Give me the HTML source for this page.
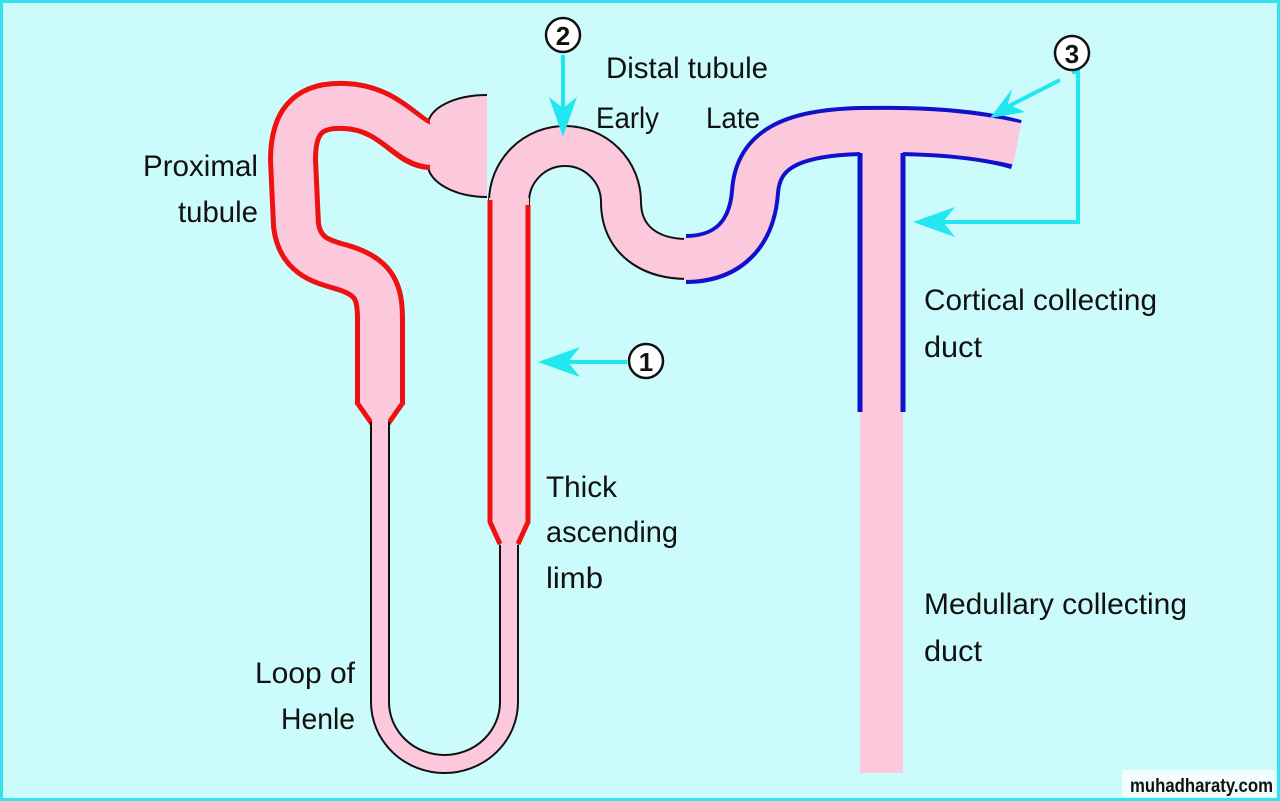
<!DOCTYPE html>
<html><head><meta charset="utf-8"><style>
html,body{margin:0;padding:0;background:#ccfbfb;}
svg{display:block}
text{font-family:"Liberation Sans",sans-serif;fill:#111;}
</style></head><body>
<svg width="1280" height="801" viewBox="0 0 1280 801" xmlns="http://www.w3.org/2000/svg">
<rect x="0" y="0" width="1280" height="801" fill="#ccfbfb"/>
<rect x="1.5" y="1.5" width="1277" height="798" fill="none" stroke="#35e2ef" stroke-width="3"/>

<!-- Glomerulus capsule -->
<path d="M487,95 C455,95 428,108 428,125 L428,165 C428,182 455,197 487,197 Z" fill="#fbc8dc" stroke="none"/>
<path d="M487,95 C455,95 428,108 428,125 L428,165 C428,182 455,197 487,197" fill="none" stroke="#111" stroke-width="2"/>

<!-- Proximal tubule -->
<path d="M430,145 C408,145 392,108 345,106 C305,104 293,125 293,160 L296,225 C300,258 325,262 345,268 C375,278 380,292 380,320 L380,405" fill="none" stroke="#ee1111" stroke-width="50"/>
<path d="M432,145 C408,145 392,108 345,106 C305,104 293,125 293,160 L296,225 C300,258 325,262 345,268 C375,278 380,292 380,320 L380,404" fill="none" stroke="#fbc8dc" stroke-width="40"/>
<polygon points="357,404 403,404 388,424 372,424" fill="#fbc8dc"/>
<path d="M358,404 L372,424 M402,404 L388,424" stroke="#ee1111" stroke-width="5" fill="none"/>

<!-- thin loop of Henle -->
<path d="M380,422 L380,702 A64.5,62 0 0 0 509,702 L509,543" fill="none" stroke="#111" stroke-width="20"/>
<path d="M380,420 L380,702 A64.5,62 0 0 0 509,702 L509,541" fill="none" stroke="#fbc8dc" stroke-width="16"/>

<!-- Early distal tubule arch (black outline) -->
<path d="M509,215 L509,202 A56,56 0 0 1 621,202 C621,240 650,259 687,259" fill="none" stroke="#111" stroke-width="42"/>
<path d="M509,220 L509,202 A56,56 0 0 1 621,202 C621,240 650,259 688,259" fill="none" stroke="#fbc8dc" stroke-width="38"/>

<!-- Thick ascending limb -->
<rect x="489" y="198" width="40" height="328" fill="#fbc8dc"/>
<polygon points="489,524 529,524 518,545 500,545" fill="#fbc8dc"/>
<path d="M490,200 L490,522 L500,544 M528,205 L528,522 L518,544" fill="none" stroke="#ee1111" stroke-width="5"/>

<!-- Late distal + cortical tube (blue) -->
<path d="M686,259 C730,259 752,232 755,192 C758,150 790,133 860,131 C930,130 980,134 1018,145" fill="none" stroke="#1111cc" stroke-width="50"/>
<path d="M684,259 C730,259 752,232 755,192 C758,150 790,133 860,131 C930,130 980,134 1030,147" fill="none" stroke="#fbc8dc" stroke-width="42"/>
<polygon points="1022,118 1042,118 1042,178 1012,172" fill="#ccfbfb"/>

<!-- collecting duct -->
<rect x="860" y="150" width="43" height="623" fill="#fbc8dc"/>
<path d="M860,153 L860,412 M903,153 L903,412" stroke="#1111cc" stroke-width="5" fill="none"/>

<!-- Arrows -->
<g fill="none" stroke="#22e6f0" stroke-width="4">
<line x1="627" y1="362" x2="555" y2="362"/>
<line x1="563" y1="55" x2="563" y2="120"/>
<line x1="1060" y1="80" x2="1005" y2="108"/>
<polyline points="1072,72 1078,72 1078,222 930,222"/>
</g>
<g fill="#22e6f0">
<polygon points="538,362 580,347 568,362 580,377"/>
<polygon points="563,137 549,97 563,108 577,97"/>
<polygon points="990,118 1012,89 1008,104 1025,112"/>
<polygon points="913,222 955,207 943,222 955,237"/>
</g>

<!-- circles -->
<g fill="#fff" stroke="#111" stroke-width="2.5">
<circle cx="646" cy="361" r="17"/>
<circle cx="563" cy="35" r="17"/>
<circle cx="1072" cy="53" r="17"/>
</g>
<g font-weight="bold" font-size="26" text-anchor="middle">
<text x="646" y="371">1</text>
<text x="563" y="45">2</text>
<text x="1072" y="63">3</text>
</g>

<!-- Labels -->
<g font-size="30">
<text x="143" y="176" textLength="115" lengthAdjust="spacingAndGlyphs">Proximal</text>
<text x="178" y="222" textLength="80" lengthAdjust="spacingAndGlyphs">tubule</text>
<text x="606" y="78" textLength="162" lengthAdjust="spacingAndGlyphs">Distal tubule</text>
<text x="596" y="128" textLength="63" lengthAdjust="spacingAndGlyphs">Early</text>
<text x="706" y="128" textLength="54" lengthAdjust="spacingAndGlyphs">Late</text>
<text x="924" y="310" textLength="233" lengthAdjust="spacingAndGlyphs">Cortical collecting</text>
<text x="924" y="357" textLength="58" lengthAdjust="spacingAndGlyphs">duct</text>
<text x="546" y="497" textLength="71" lengthAdjust="spacingAndGlyphs">Thick</text>
<text x="546" y="542" textLength="132" lengthAdjust="spacingAndGlyphs">ascending</text>
<text x="546" y="588" textLength="57" lengthAdjust="spacingAndGlyphs">limb</text>
<text x="924" y="614" textLength="263" lengthAdjust="spacingAndGlyphs">Medullary collecting</text>
<text x="924" y="661" textLength="58" lengthAdjust="spacingAndGlyphs">duct</text>
<text x="255" y="683" textLength="100" lengthAdjust="spacingAndGlyphs">Loop of</text>
<text x="281" y="729" textLength="74" lengthAdjust="spacingAndGlyphs">Henle</text>
</g>

<!-- watermark -->
<rect x="1122" y="770" width="154" height="27" fill="#f2fdfd"/>
<text x="1130" y="792" font-size="19" font-weight="bold" textLength="143" lengthAdjust="spacingAndGlyphs">muhadharaty.com</text>
</svg>
</body></html>
